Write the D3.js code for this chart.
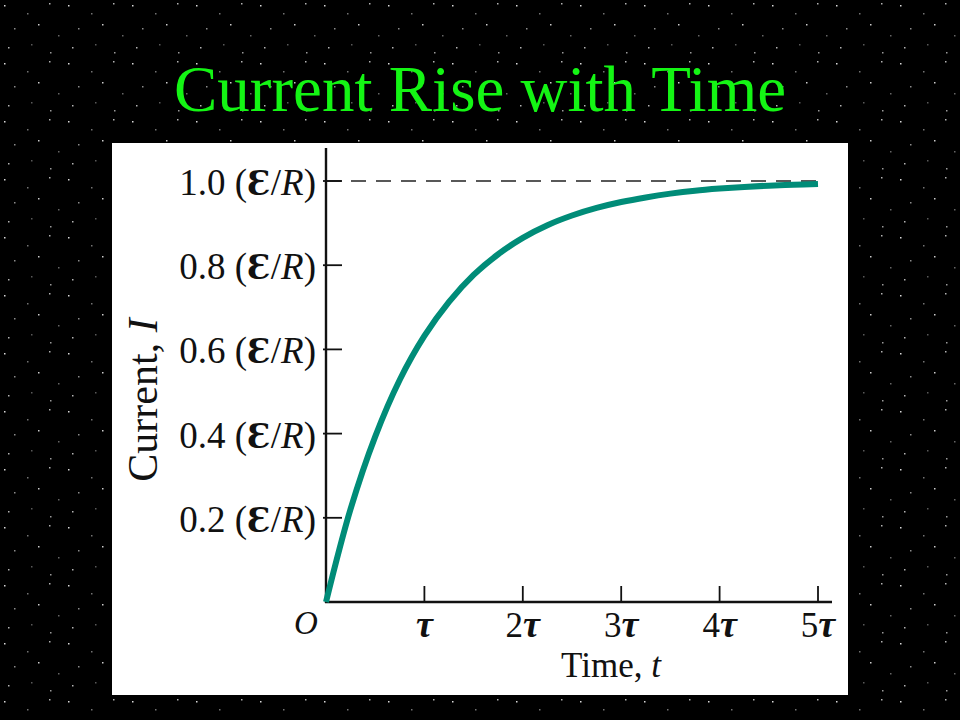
<!DOCTYPE html>
<html><head><meta charset="utf-8">
<script src="https://cdn.jsdelivr.net/npm/d3@7"></script>
<style>html,body{margin:0;padding:0;background:#000;}svg{display:block;}</style>
</head><body>
<script>
const title = "Current Rise with Time";
const timeValues = [0,0.25,0.5,0.75,1,1.25,1.5,1.75,2,2.25,2.5,2.75,3,3.25,3.5,3.75,4,4.25,4.5,4.75,5];
const currentValues = [0,0.221,0.393,0.528,0.632,0.713,0.777,0.826,0.865,0.895,0.918,0.936,0.950,0.961,0.970,0.977,0.982,0.986,0.989,0.991,0.993];
const xTicks = [1,2,3,4,5];
const xTickPrefix = ["","2","3","4","5"];
const yTicks = [0.2,0.4,0.6,0.8,1.0];
const yTickLabels = ["0.2","0.4","0.6","0.8","1.0"];
const asymptote = 1.0;

const W=960,H=720;
const svg=d3.select("body").append("svg").attr("width",W).attr("height",H);

// star background pattern
const defs=svg.append("defs");
const pat=defs.append("pattern").attr("id","stars").attr("width",64).attr("height",58).attr("patternUnits","userSpaceOnUse");
pat.append("rect").attr("width",64).attr("height",58).attr("fill","#000");
const starPts=[[4,5,0.85],[27,13,0.45],[49,3,0.7],[14,28,0.55],[38,24,0.8],[58,35,0.4],[8,47,0.7],[31,44,0.35],[50,52,0.6]];
starPts.forEach(p=>pat.append("rect").attr("x",p[0]).attr("y",p[1]).attr("width",1.5).attr("height",1.5).attr("fill","#fff").attr("opacity",p[2]));
svg.append("rect").attr("width",W).attr("height",H).attr("fill","url(#stars)");

svg.append("text").attr("x",480).attr("y",111).attr("text-anchor","middle")
  .attr("font-family","Liberation Serif, serif").attr("font-size",65).attr("fill","#14f514").text(title);

// white panel
svg.append("rect").attr("x",112).attr("y",143).attr("width",736).attr("height",552).attr("fill","#fff");

const x=d3.scaleLinear().domain([0,5]).range([326,818]);
const y=d3.scaleLinear().domain([0,1]).range([602,181]);

const serif="Liberation Serif, serif";
// dashed asymptote
svg.append("line").attr("x1",x(0)).attr("x2",x(5)).attr("y1",y(asymptote)).attr("y2",y(asymptote))
  .attr("stroke","#222").attr("stroke-width",1.6).attr("stroke-dasharray","15,10");

// axes lines
svg.append("line").attr("x1",x(0)).attr("x2",x(0)).attr("y1",148).attr("y2",y(0)+1).attr("stroke","#111").attr("stroke-width",2.4);
svg.append("line").attr("x1",x(0)-1).attr("x2",832).attr("y1",y(0)).attr("y2",y(0)).attr("stroke","#111").attr("stroke-width",2.4);

// y ticks
yTicks.forEach((v,i)=>{
  svg.append("line").attr("x1",x(0)-3).attr("x2",x(0)+16).attr("y1",y(v)).attr("y2",y(v)).attr("stroke","#111").attr("stroke-width",1.8);
  const t=svg.append("text").attr("x",316).attr("y",y(v)+14).attr("text-anchor","end")
    .attr("font-family",serif).attr("font-size",37).attr("fill","#111");
  t.append("tspan").text(yTickLabels[i]+" (");
  t.append("tspan").attr("font-family","DejaVu Serif, serif").attr("font-weight","bold").attr("font-size",33).text("Ɛ");
  t.append("tspan").text("/");
  t.append("tspan").attr("font-style","italic").text("R");
  t.append("tspan").text(")");
});
// x ticks
xTicks.forEach((v,i)=>{
  svg.append("line").attr("x1",x(v)).attr("x2",x(v)).attr("y1",y(0)).attr("y2",y(0)-16).attr("stroke","#111").attr("stroke-width",1.8);
  const t=svg.append("text").attr("x",x(v)).attr("y",637).attr("text-anchor","middle")
    .attr("font-family",serif).attr("font-size",35).attr("fill","#111");
  if(xTickPrefix[i]) t.append("tspan").text(xTickPrefix[i]);
  t.append("tspan").attr("font-style","italic").attr("font-weight","bold").attr("font-size",38).text("τ");
});
svg.append("text").attr("x",306).attr("y",634).attr("text-anchor","middle").attr("font-family",serif)
  .attr("font-style","italic").attr("font-size",33).attr("fill","#111").text("O");

// axis titles
const xt=svg.append("text").attr("x",611).attr("y",677).attr("text-anchor","middle").attr("font-family",serif).attr("font-size",35).attr("fill","#111");
xt.append("tspan").text("Time, ");
xt.append("tspan").attr("font-style","italic").text("t");
const yt=svg.append("text").attr("transform","translate(157,400) rotate(-90)").attr("text-anchor","middle").attr("font-family",serif).attr("font-size",42).attr("fill","#111");
yt.append("tspan").text("Current, ");
yt.append("tspan").attr("font-style","italic").text("I");

// curve
const data=timeValues.map((t,i)=>({t,v:currentValues[i]}));
svg.append("path").datum(data)
  .attr("d",d3.line().x(d=>x(d.t)).y(d=>y(d.v)).curve(d3.curveCatmullRom))
  .attr("fill","none").attr("stroke","#008c78").attr("stroke-width",6).attr("stroke-linecap","butt");
</script>
</body></html>
